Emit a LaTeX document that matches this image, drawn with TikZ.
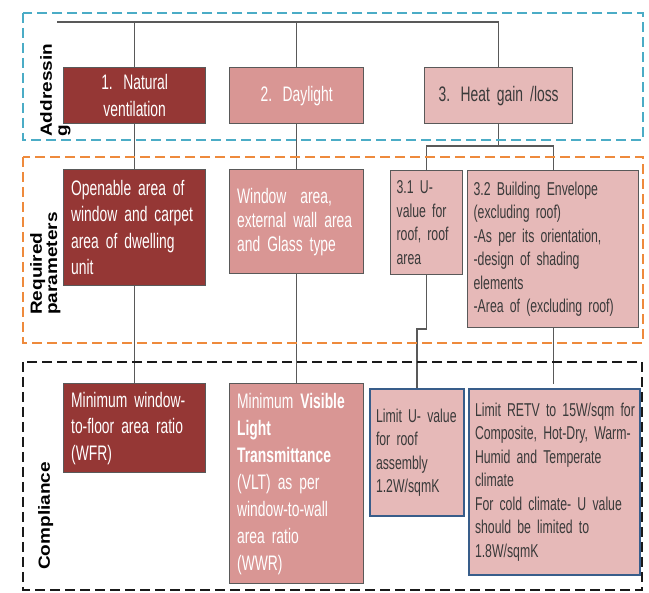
\documentclass[tikz,border=0pt]{standalone}
\usepackage{fontspec}
\setmainfont{Liberation Sans}
\newfontfamily\nar[FakeStretch=0.66]{Liberation Sans}
\definecolor{cdark}{HTML}{953735}
\definecolor{cmid}{HTML}{D99694}
\definecolor{clight}{HTML}{E6B9B8}
\definecolor{lineg}{HTML}{595959}
\definecolor{bblue}{HTML}{385D8A}
\definecolor{txtd}{HTML}{3A3A3A}
\definecolor{fblue}{HTML}{4BACC6}
\definecolor{forange}{HTML}{EE8A3C}
\definecolor{fblack}{HTML}{1A1A1A}
\newcommand\lbl[1]{\scalebox{0.85}[1]{\rotatebox{90}{\begin{tabular}{@{}l@{}}#1\end{tabular}}}}
\newcommand\narfont[2]{\nar\fontsize{#1}{#2}\selectfont}
\begin{document}
\begin{tikzpicture}[x=1pt,y=-1pt,
  bx/.style={draw=lineg, line width=1.3pt, anchor=north west, inner xsep=7.5pt, inner ysep=0pt, align=left},
  big/.style={font=\narfont{21}{26.5}},
  small/.style={font=\narfont{18.6}{23.5}},
  darkbox/.style={bx, fill=cdark, text=white},
  midbox/.style={bx, fill=cmid, text=white},
  lightbox/.style={bx, fill=clight, text=txtd},
  bluebox/.style={bx, fill=clight, text=txtd, draw=bblue, line width=2pt, inner xsep=6pt},
  conn/.style={draw=lineg, line width=1.2pt},
  frame/.style={line width=2pt, dash pattern=on 10pt off 5pt},
  lab/.style={inner sep=0pt, anchor=south west, font=\bfseries\fontsize{19}{18}\selectfont, text=black}]
\useasboundingbox (0,0) rectangle (649,593);

% Addressing
\node[darkbox, big, align=center, text width=127pt, minimum height=56pt] (a1) at (63,67) {1. Natural\\ventilation};
\node[midbox, big, align=center, text width=119pt, minimum height=56pt] (a2) at (229,67) {2. Daylight};
\node[lightbox, big, align=center, text width=133pt, minimum height=56pt] (a3) at (424,67) {3. Heat gain /loss};

% Required parameters
\node[darkbox, big, text width=127pt, minimum height=116pt] (r1) at (63,169) {Openable area of\\window and carpet\\area of dwelling\\unit};
\node[midbox, font=\narfont{21}{24}, text width=119pt, minimum height=104pt] (r2) at (229,169) {Window\ \ area,\\external wall area\\and Glass type};
\node[lightbox, small, inner xsep=6pt, text width=60pt, minimum height=104pt] (r31) at (390,170) {3.1 U-\\value for\\roof, roof\\area};
\node[lightbox, small, inner xsep=6pt, text width=159pt, minimum height=157pt] (r32) at (467,170) {3.2 Building Envelope\\(excluding roof)\\-As per its orientation,\\-design of shading\\elements\\-Area of (excluding roof)};

% Compliance
\node[darkbox, big, text width=127pt, minimum height=89pt] (c1) at (63,383) {Minimum window-\\to-floor area ratio\\(WFR)};
\node[midbox, font=\narfont{21}{27}, text width=119pt, minimum height=200pt] (c2) at (229,383) {Minimum \textbf{Visible}\\\textbf{Light}\\\textbf{Transmittance}\\(VLT) as per\\window-to-wall\\area ratio\\(WWR)};
\node[bluebox, small, text width=82pt, minimum height=127pt] (c31) at (369,388) {\mbox{Limit U- value}\\for roof\\assembly\\1.2W/sqmK};
\node[bluebox, small, text width=159pt, minimum height=186pt] (c32) at (468,388) {\mbox{Limit RETV to 15W/sqm for}\\\mbox{Composite, Hot-Dry, Warm-}\\Humid and Temperate\\climate\\For cold climate- U value\\should be limited to\\1.8W/sqmK};

% connectors
\coordinate (tl) at (57,22);
\coordinate (tr) at (a3.north |- tl);
\draw[conn] (tl) -- (tr) -- (a3.north);
\draw[conn] (a1.north |- tl) -- (a1.north);
\draw[conn] (a2.north |- tl) -- (a2.north);
\draw[conn] (a1.south) -- (r1.north);
\draw[conn] (r1.south) -- (c1.north);
\draw[conn] (a2.south) -- (r2.north);
\draw[conn] (r2.south) -- (c2.north);
\coordinate (hb) at (a3.south |- 0,146);
\draw[conn] (a3.south) -- (hb);
\draw[conn] (r31.north) |- (hb) -| (r32.north);
\coordinate (jog) at (r31.south |- 0,329);
\draw[conn] (r31.south) -- (jog) -| (c31.north);
\draw[conn, shorten >=4pt] (r32.south) -- (r32.south |- c32.north);

% frames
\draw[frame, fblue] (23,13) rectangle (643,140);
\draw[frame, forange] (23,157) rectangle (643,343);
\draw[frame, fblack, line width=1.8pt] (23,362) rectangle (642,590);

% labels
\node[lab] (lA) at (40,137) {\lbl{Addressin\\g}};
\node[lab] (lR) at (30,315) {\lbl{Required\\parameters}};
\node[lab] (lC) at (38,570) {\lbl{Compliance}};
\end{tikzpicture}
\end{document}
